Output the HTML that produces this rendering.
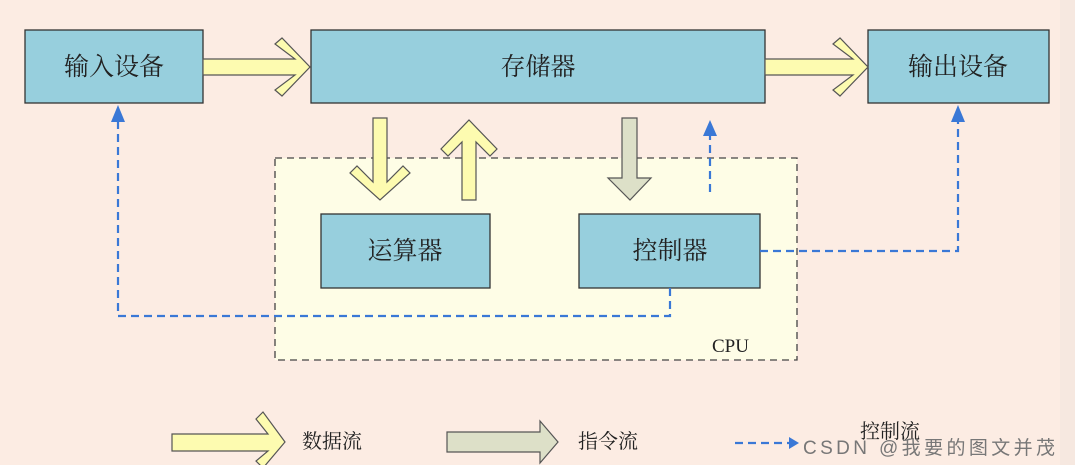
<!DOCTYPE html>
<html><head><meta charset="utf-8"><style>
html,body{margin:0;padding:0;background:#fcece3;}
svg{display:block}
text{font-family:"Liberation Serif","Noto Serif CJK SC","Noto Sans CJK SC",serif;fill:#222}
</style></head><body>
<svg width="1075" height="465" viewBox="0 0 1075 465" xmlns="http://www.w3.org/2000/svg">
<rect x="0" y="0" width="1075" height="465" fill="#fcece3"/>
<rect x="1060" y="0" width="15" height="465" fill="#f6e8e0"/>
<rect x="275" y="158" width="522" height="202" fill="#fefde6" stroke="#444" stroke-width="1.3" stroke-dasharray="7,5"/>
<text x="712" y="352" font-size="19">CPU</text>
<g fill="#97cfdd" stroke="#333" stroke-width="1.3">
<rect x="25" y="30" width="178" height="73"/>
<rect x="311" y="30" width="454" height="73"/>
<rect x="868" y="30" width="181" height="73"/>
<rect x="321" y="214" width="169" height="74"/>
<rect x="579" y="214" width="181" height="74"/>
</g>
<g font-size="25" text-anchor="middle">
<text x="114" y="75">输入设备</text>
<text x="538" y="75">存储器</text>
<text x="958" y="75">输出设备</text>
<text x="405" y="259">运算器</text>
<text x="670" y="259">控制器</text>
</g>
<g fill="#fdfbb0" stroke="#555" stroke-width="1.2">
<polygon points="203,59 295,59 275,44 282,38 310,67 282,96 275,90 295,75 203,75"/>
<polygon points="765,59 853,59 833,44 840,38 868,67 840,96 833,90 853,75 765,75"/>
<polygon points="373,118 387,118 387,182 403,166 410,173 380,200 350,173 357,166 373,182"/>
<polygon points="462,200 476,200 476,142 490,156 497,149 469,120 441,149 448,156 462,142"/>
<polygon points="172,434 268,434 256,419 263,412 285,442 263,468 256,461 268,451 172,451"/>
</g>
<g fill="#dde0c8" stroke="#555" stroke-width="1.2">
<polygon points="622,118 637,118 637,178 651,178 630,200 608,178 622,178"/>
<polygon points="447,432 540,432 540,421 558,442 540,463 540,452 447,452"/>
</g>
<g fill="none" stroke="#3a78d6" stroke-width="2.2" stroke-dasharray="8,5">
<polyline points="710,192 710,136"/>
<polyline points="760,251 958,251 958,120"/>
<polyline points="670,288 670,316 118,316 118,120"/>
<polyline points="735,443 790,443"/>
</g>
<g fill="#3a78d6">
<polygon points="703,136 717,136 710,120"/>
<polygon points="951,122 965,122 958,105"/>
<polygon points="111,122 125,122 118,105"/>
<polygon points="789,437 789,449 799,443"/>
</g>
<g font-size="20">
<text x="302" y="448">数据流</text>
<text x="578" y="448">指令流</text>
<text x="860" y="438">控制流</text>
</g>
<text x="803" y="454" font-size="19" textLength="252" style="font-family:'Liberation Sans','Noto Sans CJK SC',sans-serif;fill:#777">CSDN @我要的图文并茂</text>
</svg>
</body></html>
